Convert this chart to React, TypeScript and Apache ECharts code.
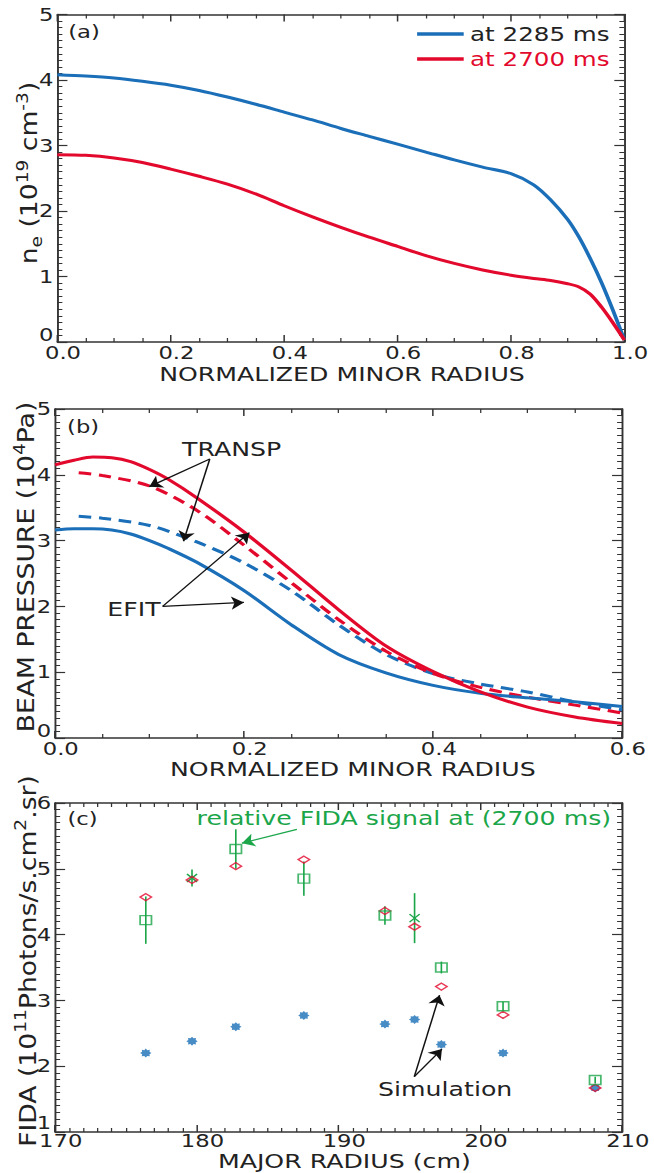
import React, { useEffect, useRef } from "react";
import * as echarts from "echarts";

const FONT = "DejaVu Sans";
const BLUE = "#1a6fb8";
const RED = "#e3092d";
const GREEN = "#1ba64a";
const AX = "#333333";
const TXT = "#222222";

// layout: the chart is drawn narrower and stretched horizontally (like the reference)
const W = 519;
const H = 1173;
const SX = 654 / 519;

// ---------- (a) electron density ----------
const rhoA = [0, 0.05, 0.1, 0.15, 0.2, 0.25, 0.3, 0.35, 0.4, 0.45, 0.5, 0.55, 0.6, 0.65, 0.7, 0.75, 0.8, 0.84, 0.87, 0.9, 0.92, 0.94, 0.96, 0.98, 1.0];
const ne2285 = [4.08, 4.06, 4.03, 3.98, 3.92, 3.84, 3.74, 3.63, 3.51, 3.39, 3.26, 3.14, 3.02, 2.9, 2.78, 2.67, 2.57, 2.4, 2.17, 1.87, 1.6, 1.27, 0.9, 0.48, 0.03];
const ne2700 = [2.86, 2.85, 2.81, 2.74, 2.64, 2.53, 2.41, 2.26, 2.08, 1.91, 1.75, 1.6, 1.46, 1.32, 1.2, 1.1, 1.02, 0.97, 0.94, 0.89, 0.84, 0.73, 0.53, 0.29, 0.03];
const legendNames = ["at 2285 ms", "at 2700 ms"];

// ---------- (b) beam pressure ----------
const rhoB = [0, 0.02, 0.04, 0.06, 0.08, 0.1, 0.12, 0.15, 0.2, 0.25, 0.3, 0.35, 0.4, 0.45, 0.5, 0.55, 0.6];
const efit2700 = [4.15, 4.22, 4.27, 4.26, 4.2, 4.08, 3.93, 3.65, 3.13, 2.55, 1.95, 1.4, 1.01, 0.7, 0.47, 0.32, 0.22];
const efit2285 = [3.16, 3.18, 3.18, 3.16, 3.1, 3.0, 2.88, 2.67, 2.24, 1.72, 1.27, 0.99, 0.8, 0.68, 0.61, 0.55, 0.48];
const rhoBd = [0.025, 0.05, 0.1, 0.15, 0.2, 0.25, 0.3, 0.35, 0.4, 0.45, 0.5, 0.55, 0.6];
const transp2700 = [4.03, 3.99, 3.83, 3.46, 2.93, 2.36, 1.8, 1.32, 0.98, 0.77, 0.62, 0.5, 0.38];
const transp2285 = [3.37, 3.34, 3.23, 2.98, 2.66, 2.24, 1.72, 1.27, 0.98, 0.82, 0.7, 0.55, 0.43];
// arrows: [fromX, fromY, toX, toY]
const transpArrows = [
  [0.1637, 4.24, 0.0997, 3.82],
  [0.1637, 4.24, 0.1359, 2.99],
];
const efitArrows = [
  [0.1138, 2.0, 0.2056, 3.12],
  [0.1138, 2.0, 0.1998, 2.06],
];

// ---------- (c) FIDA ----------
const majorR = [176.4, 179.66, 182.75, 187.55, 193.27, 195.36, 197.25, 201.6, 208.1];
const simRed = [4.57, 4.83, 5.04, 5.14, 4.36, 4.12, 3.21, 2.78, 1.67];
const simBlue = [2.2, 2.38, 2.6, 2.77, 2.64, 2.71, 2.33, 2.2, 1.67];
const fidaSqR = [176.4, 182.75, 187.55, 193.27, 197.25, 201.6, 208.1];
const fidaSq = [4.22, 5.3, 4.85, 4.29, 3.5, 2.91, 1.79];
const fidaSqErr = [0.36, 0.3, 0.26, 0.14, 0.09, 0.07, 0.05];
const fidaXR = [179.66, 195.36];
const fidaX = [4.86, 4.25];
const fidaXErr = [0.13, 0.38];
const fidaArrow = [187.06, 5.6, 183.18, 5.39];
const simArrows = [
  [195.34, 1.84, 197.12, 3.08],
  [195.34, 1.84, 197.29, 2.26],
];

const ASTERISK =
  "path://M20 10 L16.47 12.68 L17.07 17.07 L12.68 16.47 L10 20 L7.32 16.47 L2.93 17.07 L3.53 12.68 L0 10 L3.53 7.32 L2.93 2.93 L7.32 3.53 L10 0 L12.68 3.53 L17.07 2.93 L16.47 7.32 Z";

const grids = [
  { left: 45.5, top: 14.5, width: 450, height: 327.5 },
  { left: 43.7, top: 409, width: 450, height: 329 },
  { left: 43.7, top: 803, width: 450, height: 329 },
];

function xPair(g: number, min: number, max: number, interval: number, minor: number, dec: number, margin: number) {
  const base = {
    type: "value",
    gridIndex: g,
    min,
    max,
    interval,
    splitLine: { show: false },
    axisLine: { show: true, onZero: false, lineStyle: { color: AX, width: 1.5 } },
    axisTick: { show: true, inside: true, length: 7, lineStyle: { color: AX, width: 1.2 } },
    minorTick: { show: true, splitNumber: minor, length: 4, lineStyle: { color: AX, width: 1 } },
  };
  return [
    {
      ...base,
      position: "bottom",
      axisLabel: {
        show: true,
        margin,
        fontSize: 18,
        lineHeight: 15,
        fontFamily: FONT,
        color: TXT,
        padding: [0, 0, 0, 9],
        showMinLabel: true,
        showMaxLabel: true,
        formatter: (v: number) => v.toFixed(dec),
      },
    },
    { ...base, position: "top", axisLabel: { show: false } },
  ];
}

function yPair(g: number, min: number, max: number, lowPad: number) {
  const base = {
    type: "value",
    gridIndex: g,
    min,
    max,
    interval: 1,
    splitLine: { show: false },
    axisLine: { show: true, onZero: false, lineStyle: { color: AX, width: 1.5 } },
    axisTick: { show: true, inside: true, length: 8, lineStyle: { color: AX, width: 1.2 } },
    minorTick: { show: true, splitNumber: 10, length: 4, lineStyle: { color: AX, width: 1 } },
  };
  return [
    {
      ...base,
      position: "left",
      axisLabel: {
        show: true,
        margin: 3,
        fontSize: 18,
        lineHeight: 15,
        fontFamily: FONT,
        color: TXT,
        showMinLabel: true,
        showMaxLabel: true,
        formatter: (v: number) => (Math.round(v) === min ? `{low|${Math.round(v)}}` : String(Math.round(v))),
        rich: {
          low: { fontFamily: FONT, fontSize: 18, lineHeight: 15, color: TXT, padding: [0, 0, lowPad, 0] },
        },
      },
    },
    { ...base, position: "right", axisLabel: { show: false } },
  ];
}

function arrowLines(list: number[][], color: string) {
  return {
    silent: true,
    animation: false,
    symbol: ["none", "arrow"],
    symbolSize: 10,
    label: { show: false },
    emphasis: { disabled: true },
    lineStyle: { color, width: 1.2, type: "solid", opacity: 1 },
    data: list.map((a) => [{ coord: [a[0], a[1]] }, { coord: [a[2], a[3]] }]),
  };
}

const richY = {
  a: { fontFamily: FONT, fontSize: 20, lineHeight: 26, fill: TXT, verticalAlign: "middle" },
  u: { fontFamily: FONT, fontSize: 14, lineHeight: 14, fill: TXT, verticalAlign: "top" },
  d: { fontFamily: FONT, fontSize: 14, lineHeight: 14, fill: TXT, verticalAlign: "bottom" },
};

function yTitle(x: number, y: number, text: string) {
  return {
    type: "text",
    x,
    y,
    rotation: Math.PI / 2,
    scaleX: 1.33,
    scaleY: 0.92,
    style: { text, rich: richY, align: "center", verticalAlign: "middle", fontFamily: FONT, fontSize: 20, fill: TXT },
  };
}

function label(x: number, y: number, text: string, size: number, color: string) {
  return {
    type: "text",
    x,
    y,
    style: {
      text,
      fontFamily: FONT,
      fontSize: size,
      lineHeight: size - 3,
      fill: color,
      align: "center",
      verticalAlign: "middle",
    },
  };
}

export default function App() {
  const ref = useRef<HTMLDivElement>(null);
  useEffect(() => {
    if (!ref.current) return;
    const chart = echarts.init(ref.current, undefined, { renderer: "svg", width: W, height: H });

    const errData = [
      ...fidaSqR.map((r, i) => [r, fidaSq[i], fidaSqErr[i], 0]),
      ...fidaXR.map((r, i) => [r, fidaX[i], fidaXErr[i], 1]),
    ];

    const option: any = {
      animation: false,
      backgroundColor: "#ffffff",
      grid: grids,
      legend: {
        data: [
          { name: legendNames[0], textStyle: { color: TXT } },
          { name: legendNames[1], textStyle: { color: RED } },
        ],
        orient: "vertical",
        left: 331,
        top: 24,
        icon: "rect",
        itemWidth: 37,
        itemHeight: 3.5,
        itemGap: 5,
        padding: 0,
        selectedMode: false,
        textStyle: { fontFamily: FONT, fontSize: 19.5, lineHeight: 20 },
      },
      xAxis: [
        ...xPair(0, 0, 1, 0.2, 4, 1, 3),
        ...xPair(1, 0, 0.6, 0.2, 4, 1, 3),
        ...xPair(2, 170, 210, 10, 10, 0, 1),
      ],
      yAxis: [...yPair(0, 0, 5, 15), ...yPair(1, 0, 5, 15), ...yPair(2, 1, 6, 19)],
      series: [
        {
          name: legendNames[0],
          type: "line",
          xAxisIndex: 0,
          yAxisIndex: 0,
          data: rhoA.map((x, i) => [x, ne2285[i]]),
          showSymbol: false,
          smooth: 0.3,
          lineStyle: { color: BLUE, width: 3 },
          itemStyle: { color: BLUE },
        },
        {
          name: legendNames[1],
          type: "line",
          xAxisIndex: 0,
          yAxisIndex: 0,
          data: rhoA.map((x, i) => [x, ne2700[i]]),
          showSymbol: false,
          smooth: 0.3,
          lineStyle: { color: RED, width: 3 },
          itemStyle: { color: RED },
        },
        {
          type: "line",
          xAxisIndex: 2,
          yAxisIndex: 2,
          data: rhoBd.map((x, i) => [x, transp2285[i]]),
          showSymbol: false,
          smooth: 0.3,
          lineStyle: { color: BLUE, width: 3, type: [10, 6] },
        },
        {
          type: "line",
          xAxisIndex: 2,
          yAxisIndex: 2,
          data: rhoBd.map((x, i) => [x, transp2700[i]]),
          showSymbol: false,
          smooth: 0.3,
          lineStyle: { color: RED, width: 3, type: [10, 6] },
        },
        {
          type: "line",
          xAxisIndex: 2,
          yAxisIndex: 2,
          data: rhoB.map((x, i) => [x, efit2285[i]]),
          showSymbol: false,
          smooth: 0.3,
          lineStyle: { color: BLUE, width: 3 },
        },
        {
          type: "line",
          xAxisIndex: 2,
          yAxisIndex: 2,
          data: rhoB.map((x, i) => [x, efit2700[i]]),
          showSymbol: false,
          smooth: 0.3,
          lineStyle: { color: RED, width: 3 },
          markLine: arrowLines([...transpArrows, ...efitArrows], "#111111"),
        },
        {
          type: "scatter",
          xAxisIndex: 4,
          yAxisIndex: 4,
          data: majorR.map((r, i) => [r, simBlue[i]]),
          symbol: ASTERISK,
          symbolSize: [9, 9],
          itemStyle: { color: BLUE },
        },
        {
          type: "scatter",
          xAxisIndex: 4,
          yAxisIndex: 4,
          data: majorR.map((r, i) => [r, simRed[i]]),
          symbol: "diamond",
          symbolSize: [9, 7],
          itemStyle: { color: "rgba(0,0,0,0)", borderColor: RED, borderWidth: 1.4 },
          markLine: arrowLines(simArrows, "#111111"),
        },
        {
          type: "custom",
          xAxisIndex: 4,
          yAxisIndex: 4,
          data: errData,
          encode: { x: 0, y: 1 },
          renderItem: (params: any, api: any) => {
            const x = api.value(0);
            const y = api.value(1);
            const e = api.value(2);
            const k = api.value(3);
            const top = api.coord([x, y + e]);
            const bot = api.coord([x, y - e]);
            const c = api.coord([x, y]);
            const st = { stroke: GREEN, lineWidth: 1.3 };
            const children: any[] = [
              { type: "line", shape: { x1: top[0], y1: top[1], x2: bot[0], y2: bot[1] }, style: st },
            ];
            if (k === 1) {
              children.push({ type: "line", shape: { x1: c[0] - 4, y1: c[1] - 4, x2: c[0] + 4, y2: c[1] + 4 }, style: st });
              children.push({ type: "line", shape: { x1: c[0] - 4, y1: c[1] + 4, x2: c[0] + 4, y2: c[1] - 4 }, style: st });
            }
            return { type: "group", children };
          },
        },
        {
          type: "scatter",
          xAxisIndex: 4,
          yAxisIndex: 4,
          data: fidaSqR.map((r, i) => [r, fidaSq[i]]),
          symbol: "rect",
          symbolSize: [9, 9],
          itemStyle: { color: "rgba(0,0,0,0)", borderColor: GREEN, borderWidth: 1.4 },
          markLine: arrowLines([fidaArrow], GREEN),
        },
      ],
      graphic: [
        label(66.7, 32, "(a)", 18, TXT),
        label(66, 427, "(b)", 18, TXT),
        label(65.5, 819, "(c)", 18, TXT),
        label(183.8, 449, "TRANSP", 20, TXT),
        label(106.3, 609, "EFIT", 20, TXT),
        label(320.5, 818, "relative FIDA signal at (2700 ms)", 20, GREEN),
        label(353.3, 1089, "Simulation", 20, TXT),
        label(271.4, 374, "NORMALIZED MINOR RADIUS", 20, TXT),
        label(280, 769, "NORMALIZED MINOR RADIUS", 20, TXT),
        label(273.3, 1160.5, "MAJOR RADIUS (cm)", 20, TXT),
        yTitle(23, 173, "{a|n}{d|e}{a| (10}{u|19}{a| cm}{u|-3}{a|)}"),
        yTitle(21, 567, "{a|BEAM PRESSURE (10}{u|4}{a|Pa)}"),
        yTitle(22, 961, "{a|FIDA (10}{u|11}{a|Photons/s.cm}{u|2}{a|.sr)}"),
      ],
    };
    chart.setOption(option);
    return () => chart.dispose();
  }, []);

  return (
    <div
      ref={ref}
      style={{
        position: "absolute",
        left: 0,
        top: 0,
        width: W,
        height: H,
        transform: `scaleX(${SX})`,
        transformOrigin: "0 0",
        background: "#fff",
      }}
    />
  );
}
